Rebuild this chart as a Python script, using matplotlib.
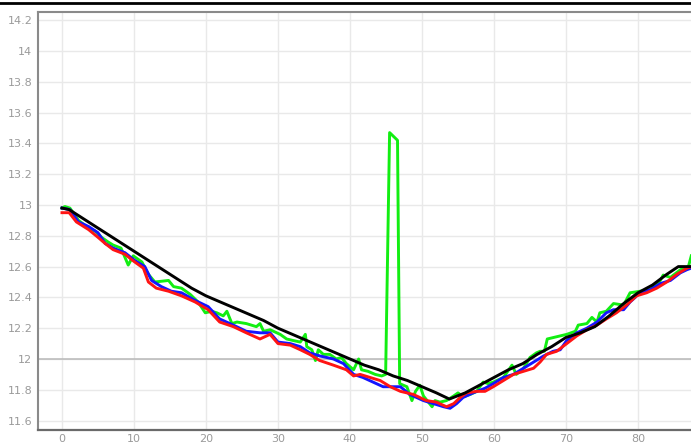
import matplotlib
matplotlib.use("Agg")
import matplotlib.pyplot as plt
from matplotlib.lines import Line2D

# ---- data ----
green_x = [0, 0.4, 1.1, 2.3, 3.7, 4.6, 5.5, 6.4, 7.1, 8.2, 9.2, 9.9, 11.1, 12, 12.9, 14.8, 15.5, 16.6,
           17.8, 18.9, 19.9, 20.8, 21.5, 22.4, 22.9, 23.6, 24.3, 25.6, 27.0, 27.5, 28.0, 28.9, 30.3, 31.2,
           32.1, 33.1, 33.8, 34.0, 34.7, 35.2, 35.6, 36.3, 37.2, 38.1, 38.8, 39.5, 40.5, 41.2, 41.6, 42.5,
           43.5, 44.4, 44.95, 45.5, 46.6, 46.9, 47.9, 48.6, 49.1, 49.7, 50.2, 51.4, 51.8, 52.5, 53.4, 54.4,
           55.0, 55.7, 56.7, 57.6, 58.5, 59.2, 59.9, 61.3, 62.5, 63.1, 64.1, 65.0, 65.9, 66.4, 67.0, 67.4,
           70.1, 71.3, 71.7, 72.9, 73.6, 74.3, 74.7, 75.6, 76.6, 78.0, 78.9, 80.3, 81.7, 83.1, 83.5, 84.5,
           85.9, 87.0, 87.4]
green_y = [12.98, 12.99, 12.98, 12.90, 12.85, 12.83, 12.79, 12.76, 12.74, 12.72, 12.61, 12.67, 12.63, 12.55,
           12.50, 12.51, 12.47, 12.46, 12.42, 12.37, 12.30, 12.31, 12.30, 12.28, 12.31, 12.23, 12.24, 12.23,
           12.21, 12.23, 12.18, 12.19, 12.16, 12.13, 12.12, 12.11, 12.16, 12.08, 12.06, 11.99, 12.06, 12.03,
           12.03, 12.00, 12.01, 11.97, 11.93, 12.00, 11.93, 11.92, 11.90, 11.89, 11.90, 13.47, 13.42, 11.84,
           11.82, 11.73, 11.79, 11.83, 11.76, 11.69, 11.73, 11.72, 11.73, 11.76, 11.78, 11.755, 11.77, 11.79,
           11.85, 11.84, 11.85, 11.88, 11.96, 11.90, 11.94, 12.01, 12.04, 12.05, 12.05, 12.13,
           12.16, 12.18, 12.22, 12.23, 12.27, 12.24, 12.30, 12.31, 12.36, 12.35, 12.43, 12.44, 12.45, 12.51,
           12.545, 12.53, 12.58, 12.60, 12.67]

blue_x = [0, 1.1, 2.3, 3.7, 5, 6, 7.1, 8.75, 10.1, 11.5, 12.45, 13.8, 15.2, 16.6, 18.5, 20.3, 21.9, 23.8,
          25.6, 27.5, 28.9, 30, 31.7, 33.1, 34.4, 35.8, 37.7, 39.1, 40.5, 41.8, 43.2, 44.6, 45.6, 47, 48.3,
          50.2, 51.6, 53, 53.9, 54.8, 55.7, 57.1, 58.75, 59.9, 61.3, 62.7, 64.1, 65.5, 66.9, 68.2, 69.2,
          70.1, 71.5, 72.9, 74.3, 75.6, 76.6, 78, 78.9, 80.3, 81.7, 83.1, 84.5, 85.9, 86.8, 87.4]
blue_y = [12.98, 12.97, 12.89, 12.86, 12.82, 12.75, 12.72, 12.69, 12.64, 12.60, 12.51, 12.47, 12.44, 12.43,
          12.38, 12.34, 12.26, 12.22, 12.18, 12.17, 12.17, 12.11, 12.10, 12.08, 12.04, 12.02, 12.00, 11.97,
          11.90, 11.88, 11.85, 11.82, 11.82, 11.82, 11.77, 11.73, 11.71, 11.69, 11.68, 11.71, 11.75, 11.78,
          11.81, 11.84, 11.88, 11.90, 11.94, 11.98, 12.02, 12.05, 12.06, 12.12, 12.17, 12.20, 12.24, 12.30,
          12.32, 12.32, 12.37, 12.43, 12.45, 12.49, 12.51, 12.56, 12.58, 12.59]

red_x = [0, 1, 2, 3.7, 5, 6, 7.1, 8.75, 10.1, 11.3, 12, 13.1, 14.8, 16.6, 18.5, 20.3, 21.9, 23.8, 25.6,
         27.5, 28.9, 30, 31.7, 33.1, 34.4, 35.8, 37.7, 39.5, 40.5, 41.4, 42.8, 44.2, 45.6, 47, 48.8, 50.6,
         52, 53.4, 54.4, 55.3, 56.2, 57.6, 58.75, 59.9, 61.3, 62.7, 64.1, 65.5, 66.4, 67.3, 68.7, 70.1,
         71.5, 72.9, 74.3, 75.6, 77, 78.4, 79.8, 81.2, 82.6, 84, 85.4, 86.8, 87.4]
red_y = [12.95, 12.95, 12.89, 12.84, 12.79, 12.75, 12.71, 12.68, 12.63, 12.59, 12.50, 12.46, 12.44, 12.41,
         12.37, 12.32, 12.24, 12.21, 12.17, 12.13, 12.16, 12.10, 12.09, 12.06, 12.03, 11.99, 11.96, 11.93,
         11.89, 11.90, 11.88, 11.86, 11.82, 11.79, 11.77, 11.73, 11.72, 11.69, 11.71, 11.75, 11.78, 11.79,
         11.79, 11.82, 11.86, 11.90, 11.92, 11.94, 11.98, 12.03, 12.05, 12.10, 12.15, 12.19, 12.22, 12.26,
         12.30, 12.35, 12.41, 12.43, 12.46, 12.50, 12.55, 12.59, 12.60]

black_x = [0, 1, 2, 4, 6, 8, 10, 12, 14, 16, 18, 20, 22, 24, 26, 28, 30, 32, 34, 36, 38, 40, 42, 44, 46,
           48, 50, 52, 53.8, 56, 58, 60, 62, 64, 66, 68, 70, 72, 74, 76, 78, 80, 82, 84, 85.6, 88]
black_y = [12.98, 12.97, 12.94, 12.88, 12.82, 12.76, 12.70, 12.64, 12.58, 12.52, 12.46, 12.41, 12.37, 12.33,
           12.29, 12.25, 12.20, 12.16, 12.12, 12.08, 12.04, 12.00, 11.96, 11.93, 11.89, 11.86, 11.82, 11.78,
           11.74, 11.78, 11.83, 11.88, 11.93, 11.97, 12.03, 12.08, 12.14, 12.17, 12.21, 12.28, 12.36, 12.43,
           12.48, 12.55, 12.60, 12.60]

x_ticks = [0, 10, 20, 30, 40, 50, 60, 70, 80]
y_ticks = [11.6, 11.8, 12.0, 12.2, 12.4, 12.6, 12.8, 13.0, 13.2, 13.4, 13.6, 13.8, 14.0, 14.2]
y_tick_labels = ["11.6", "11.8", "12", "12.2", "12.4", "12.6", "12.8", "13", "13.2", "13.4", "13.6",
                 "13.8", "14", "14.2"]

# ---- figure ----
fig = plt.figure(figsize=(6.91, 4.44), dpi=100)
ax = fig.add_axes([38 / 691, 1 - 430 / 444, 1 - 38 / 691, (430 - 12) / 444])

ax.set_xlim(-3.33, 87.36)
ax.set_ylim(11.539, 14.253)

ax.set_xticks(x_ticks)
ax.set_yticks(y_ticks)
ax.set_yticklabels(y_tick_labels)
ax.tick_params(axis="both", length=0, labelsize=8, labelcolor="#9a9a9a")
ax.tick_params(axis="y", pad=4)
ax.tick_params(axis="x", pad=3)

ax.grid(True, color="#e9e9e9", linewidth=1.0, zorder=0)
ax.set_axisbelow(True)
ax.axhline(12.0, color="#b8b8b8", linewidth=1.1, zorder=1)

for side in ["top", "left"]:
    ax.spines[side].set_color("#8a8a8a")
    ax.spines[side].set_linewidth(1.5)
ax.spines["bottom"].set_color("#6a6a6a")
ax.spines["bottom"].set_linewidth(1.6)
ax.spines["right"].set_visible(False)

lw = 2.1
ax.plot(green_x, green_y, color="#12ee12", linewidth=lw, zorder=3, solid_joinstyle="round")
ax.plot(blue_x, blue_y, color="#1414ff", linewidth=lw, zorder=4, solid_joinstyle="round")
ax.plot(red_x, red_y, color="#ff1414", linewidth=lw, zorder=5, solid_joinstyle="round")
ax.plot(black_x, black_y, color="#000000", linewidth=lw, zorder=6, solid_joinstyle="round")

fig.add_artist(Line2D([0, 1], [1 - 2.6 / 444, 1 - 2.6 / 444], transform=fig.transFigure,
                      color="black", linewidth=2.0))

fig.savefig("out.png", dpi=100)
